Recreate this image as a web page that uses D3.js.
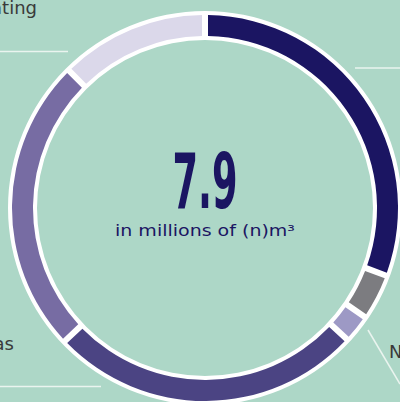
<!DOCTYPE html>
<html>
<head>
<meta charset="utf-8">
<script src="https://cdn.jsdelivr.net/npm/d3@7"></script>
<style>
  html, body { margin: 0; padding: 0; background: #add7c7; overflow: hidden; }
  .label { font-family: "DejaVu Sans", "Noto Sans", sans-serif; font-size: 18px; fill: #3a3a3a; }
  .leader { stroke: #eaf4ef; stroke-width: 1.5; fill: none; }
</style>
</head>
<body>
<div id="chart"></div>
<script>
// values in millions of (n)m3, clockwise from the top
var categories = ["Transport", "Other", "Non-energy", "Industry", "Gas", "Heating"];
var values = [2.46, 0.27, 0.15, 2.08, 1.97, 0.97];
var colors = ["#1b1562", "#7c7c80", "#9d99c5", "#4b4483", "#776ca3", "#dbd8ea"];
var total = "7.9";
var unit = "in millions of (n)m³";

var width = 400, height = 402;
var cx = 205, cy = 208;
var rIn = 172, rOut = 193;

var svg = d3.select("#chart")
    .append("svg")
    .attr("width", width)
    .attr("height", height);

// leader lines of the cut-off labels
svg.append("line").attr("class", "leader").attr("x1", 0).attr("y1", 51.5).attr("x2", 68).attr("y2", 51.5);
svg.append("line").attr("class", "leader").attr("x1", 355).attr("y1", 68).attr("x2", 400).attr("y2", 68);
svg.append("line").attr("class", "leader").attr("x1", 0).attr("y1", 386.5).attr("x2", 101).attr("y2", 386.5);
svg.append("line").attr("class", "leader").attr("x1", 368).attr("y1", 330).attr("x2", 400).attr("y2", 384);

// labels (they run off the edge of the picture)
svg.append("text").attr("class", "label").attr("x", 37).attr("y", 14)
    .attr("text-anchor", "end").text(categories[5]);
svg.append("text").attr("class", "label").attr("x", 14).attr("y", 350)
    .attr("text-anchor", "end").text(categories[4]);
svg.append("text").attr("class", "label").attr("x", 389).attr("y", 358)
    .text(categories[2]);

var g = svg.append("g")
    .attr("transform", "translate(" + cx + "," + cy + ")");

// white ring behind the segments
g.append("path")
    .attr("fill", "#ffffff")
    .attr("d", d3.arc()({ innerRadius: rIn - 4, outerRadius: rOut + 4, startAngle: 0, endAngle: 2 * Math.PI }));

var pie = d3.pie().sort(null).padAngle(6 / 182);
var arc = d3.arc().innerRadius(rIn).outerRadius(rOut).padRadius(182);

g.selectAll("path.slice")
    .data(pie(values))
    .enter()
    .append("path")
    .attr("class", "slice")
    .attr("fill", function (d, i) { return colors[i]; })
    .attr("d", arc);

// centre text
g.append("text")
    .attr("x", 0)
    .attr("y", 0)
    .attr("text-anchor", "middle")
    .attr("font-family", "'Liberation Sans Narrow', 'DejaVu Sans Condensed', sans-serif")
    .attr("font-weight", "bold")
    .attr("font-size", 76)
    .attr("fill", "#1b1562")
    .attr("textLength", 65)
    .attr("lengthAdjust", "spacingAndGlyphs")
    .text(total);

g.append("text")
    .attr("x", 0)
    .attr("y", 28)
    .attr("text-anchor", "middle")
    .attr("font-family", "'DejaVu Sans', 'Noto Sans', sans-serif")
    .attr("font-size", 16)
    .attr("fill", "#1b1562")
    .attr("textLength", 180)
    .attr("lengthAdjust", "spacingAndGlyphs")
    .text(unit);
</script>
</body>
</html>
